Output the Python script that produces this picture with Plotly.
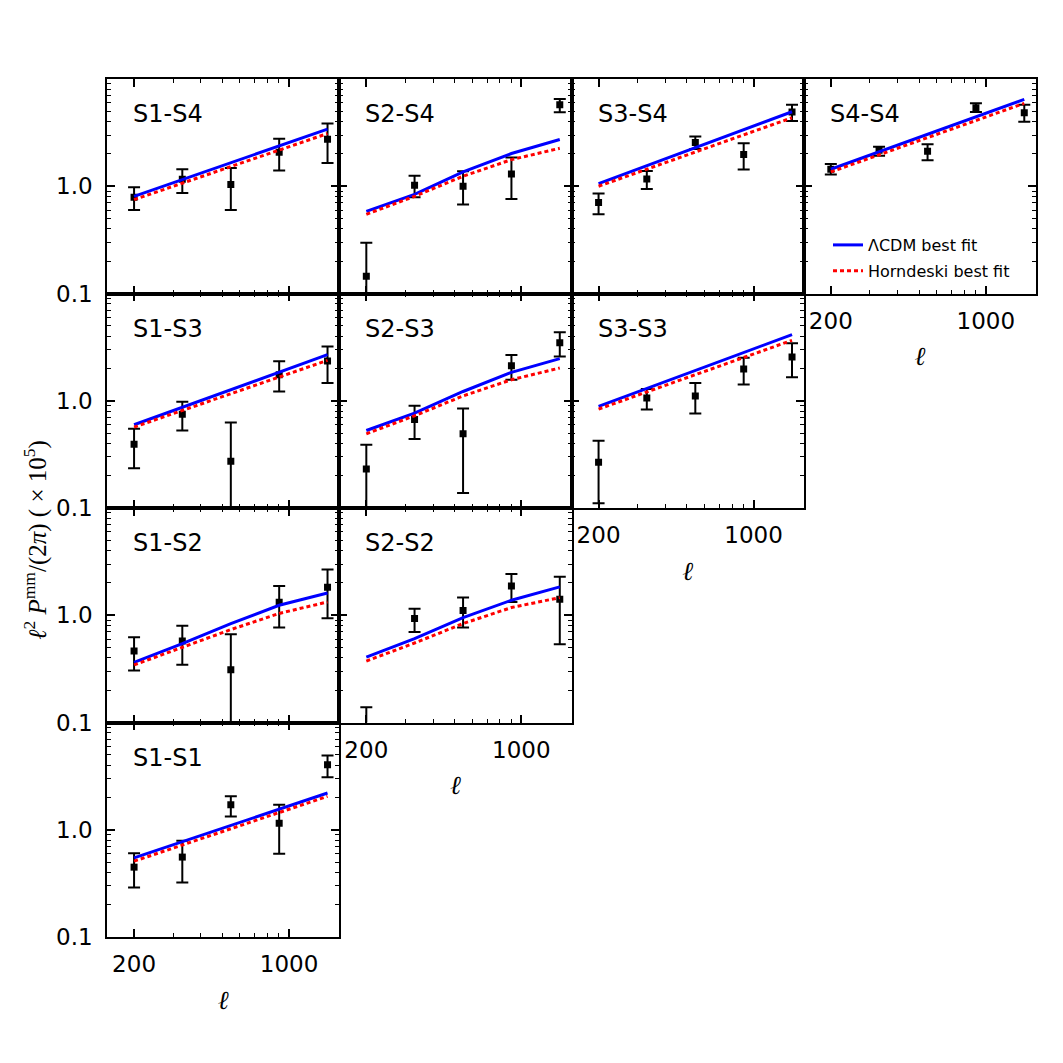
import plotly.graph_objects as go
from plotly.subplots import make_subplots

# multipole centres of the band powers
ell = [200, 330, 546, 902, 1490]

# ---- measured band powers (value, lower end, upper end of error bar) and best-fit models ----
s1s4_val = [0.79, 1.16, 1.04, 2.07, 2.75]
s1s4_lo = [0.60, 0.865, 0.60, 1.40, 1.65]
s1s4_hi = [0.98, 1.44, 1.48, 2.77, 3.85]
s1s4_lcdm = [0.805, 1.156, 1.656, 2.38, 3.41]
s1s4_horn = [0.75, 1.07, 1.53, 2.18, 3.10]

s2s4_val = [0.145, 1.02, 1.00, 1.30, 5.75]
s2s4_lo = [0.05, 0.79, 0.675, 0.76, 4.89]
s2s4_hi = [0.298, 1.25, 1.38, 1.85, 6.5]
s2s4_lcdm = [0.583, 0.84, 1.36, 2.02, 2.73]
s2s4_horn = [0.547, 0.805, 1.24, 1.77, 2.26]

s3s4_val = [0.705, 1.17, 2.56, 1.98, 4.92]
s3s4_lo = [0.547, 0.945, 2.23, 1.43, 4.05]
s3s4_hi = [0.855, 1.39, 2.91, 2.52, 5.75]
s3s4_lcdm = [1.06, 1.557, 2.29, 3.37, 4.95]
s3s4_horn = [1.0, 1.445, 2.09, 3.02, 4.35]

s4s4_val = [1.44, 2.17, 2.12, 5.39, 4.84]
s4s4_lo = [1.29, 1.92, 1.75, 4.92, 3.99]
s4s4_hi = [1.61, 2.33, 2.47, 5.93, 5.75]
s4s4_lcdm = [1.44, 2.10, 3.05, 4.44, 6.46]
s4s4_horn = [1.36, 1.97, 2.84, 4.10, 5.93]

s1s3_val = [0.394, 0.75, 0.273, 1.75, 2.35]
s1s3_lo = [0.235, 0.528, 0.05, 1.22, 1.46]
s1s3_hi = [0.547, 0.98, 0.627, 2.33, 3.2]
s1s3_lcdm = [0.597, 0.870, 1.27, 1.85, 2.69]
s1s3_horn = [0.568, 0.812, 1.163, 1.66, 2.38]

s2s3_val = [0.231, 0.668, 0.492, 2.12, 3.48]
s2s3_lo = [0.05, 0.441, 0.138, 1.57, 2.59]
s2s3_hi = [0.388, 0.897, 0.847, 2.67, 4.35]
s2s3_lcdm = [0.528, 0.767, 1.22, 1.84, 2.47]
s2s3_horn = [0.492, 0.724, 1.11, 1.57, 2.02]

s3s3_val = [0.267, 1.06, 1.11, 1.98, 2.56]
s3s3_lo = [0.111, 0.83, 0.76, 1.42, 1.66]
s3s3_hi = [0.423, 1.29, 1.46, 2.52, 3.43]
s3s3_lcdm = [0.885, 1.30, 1.91, 2.82, 4.14]
s3s3_horn = [0.836, 1.21, 1.75, 2.53, 3.66]

s1s2_val = [0.465, 0.575, 0.31, 1.32, 1.82]
s1s2_lo = [0.306, 0.346, 0.05, 0.767, 0.938]
s1s2_hi = [0.622, 0.80, 0.664, 1.87, 2.67]
s1s2_lcdm = [0.364, 0.543, 0.836, 1.24, 1.61]
s1s2_horn = [0.344, 0.506, 0.735, 1.04, 1.33]

s2s2_val = [0.06, 0.931, 1.11, 1.87, 1.41]
s2s2_lo = [0.02, 0.698, 0.767, 1.33, 0.536]
s2s2_hi = [0.139, 1.15, 1.46, 2.43, 2.28]
s2s2_lcdm = [0.407, 0.605, 0.95, 1.38, 1.84]
s2s2_horn = [0.374, 0.551, 0.836, 1.18, 1.46]

s1s1_val = [0.448, 0.556, 1.71, 1.15, 4.03]
s1s1_lo = [0.289, 0.322, 1.33, 0.597, 3.08]
s1s1_hi = [0.605, 0.789, 2.05, 1.71, 4.92]
s1s1_lcdm = [0.547, 0.774, 1.098, 1.556, 2.20]
s1s1_horn = [0.509, 0.721, 1.02, 1.445, 2.05]

# tick definitions
x_major = [200, 1000]
x_major_text = ["200", "1000"]
x_minor = [300, 400, 500, 600, 700, 800, 900]
y_major = [0.1, 1.0]
y_major_text = ["0.1", "1.0"]
y_minor = [0.2, 0.3, 0.4, 0.5, 0.6, 0.7, 0.8, 0.9, 2, 3, 4, 5, 6, 7, 8, 9]

legend_names = ["\u039bCDM best fit", "Horndeski best fit"]

# (label, row, col, data...)
panels = [
    ("S1-S4", 1, 1, s1s4_val, s1s4_lo, s1s4_hi, s1s4_lcdm, s1s4_horn),
    ("S2-S4", 1, 2, s2s4_val, s2s4_lo, s2s4_hi, s2s4_lcdm, s2s4_horn),
    ("S3-S4", 1, 3, s3s4_val, s3s4_lo, s3s4_hi, s3s4_lcdm, s3s4_horn),
    ("S4-S4", 1, 4, s4s4_val, s4s4_lo, s4s4_hi, s4s4_lcdm, s4s4_horn),
    ("S1-S3", 2, 1, s1s3_val, s1s3_lo, s1s3_hi, s1s3_lcdm, s1s3_horn),
    ("S2-S3", 2, 2, s2s3_val, s2s3_lo, s2s3_hi, s2s3_lcdm, s2s3_horn),
    ("S3-S3", 2, 3, s3s3_val, s3s3_lo, s3s3_hi, s3s3_lcdm, s3s3_horn),
    ("S1-S2", 3, 1, s1s2_val, s1s2_lo, s1s2_hi, s1s2_lcdm, s1s2_horn),
    ("S2-S2", 3, 2, s2s2_val, s2s2_lo, s2s2_hi, s2s2_lcdm, s2s2_horn),
    ("S1-S1", 4, 1, s1s1_val, s1s1_lo, s1s1_hi, s1s1_lcdm, s1s1_horn),
]

specs = [
    [{}, {}, {}, {}],
    [{}, {}, {}, None],
    [{}, {}, None, None],
    [{}, None, None, None],
]
fig = make_subplots(rows=4, cols=4, specs=specs,
                    horizontal_spacing=0, vertical_spacing=0)

SANS = "DejaVu Sans"
SERIF = "Liberation Serif"

first = True
for label, r, c, val, lo, hi, lcdm, horn in panels:
    up = [h - v for h, v in zip(hi, val)]
    dn = [v - l for v, l in zip(val, lo)]
    fig.add_trace(go.Scatter(
        x=ell, y=val, mode="markers",
        marker=dict(symbol="square", size=7, color="black"),
        error_y=dict(type="data", symmetric=False, array=up, arrayminus=dn,
                     color="black", thickness=2, width=6),
        showlegend=False, hoverinfo="skip"), row=r, col=c)
    fig.add_trace(go.Scatter(
        x=ell, y=lcdm, mode="lines", name=legend_names[0],
        line=dict(color="#0000ff", width=3),
        showlegend=first, legendgroup="a"), row=r, col=c)
    fig.add_trace(go.Scatter(
        x=ell, y=horn, mode="lines", name=legend_names[1],
        line=dict(color="#ff0000", width=3, dash="4px,3px"),
        showlegend=first, legendgroup="b"), row=r, col=c)
    first = False

    bottom_of_column = (r + c == 5)
    xaxis_kw = dict(
        type="log", range=[2.179, 3.226],
        tickmode="array", tickvals=x_major, ticktext=x_major_text,
        showticklabels=bottom_of_column,
        ticks="inside", ticklen=8, tickwidth=1.5, tickcolor="black",
        minor=dict(tickmode="array", tickvals=x_minor, ticks="inside",
                   ticklen=4, tickwidth=1.2, tickcolor="black"),
        showline=True, linecolor="black", linewidth=1.6, mirror="allticks",
        showgrid=False, zeroline=False,
        tickfont=dict(family=SANS, size=23, color="black"),
        ticklabelstandoff=6,
    )
    if bottom_of_column:
        xaxis_kw["title"] = dict(text="<i>\u2113</i>",
                                 font=dict(family=SERIF, size=26, color="black"),
                                 standoff=14)
    fig.update_xaxes(**xaxis_kw, row=r, col=c)
    fig.update_yaxes(
        type="log", range=[-1, 1],
        tickmode="array", tickvals=y_major, ticktext=y_major_text,
        showticklabels=(c == 1),
        ticks="inside", ticklen=8, tickwidth=1.5, tickcolor="black",
        minor=dict(tickmode="array", tickvals=y_minor, ticks="inside",
                   ticklen=4, tickwidth=1.2, tickcolor="black"),
        showline=True, linecolor="black", linewidth=1.6, mirror="allticks",
        showgrid=False, zeroline=False,
        tickfont=dict(family=SANS, size=23, color="black"),
        ticklabelstandoff=8,
        row=r, col=c)

    # panel label
    sub = fig.get_subplot(r, c)
    xd = sub.xaxis.plotly_name.replace("axis", "")
    yd = sub.yaxis.plotly_name.replace("axis", "")
    fig.add_annotation(text=label, xref=f"{xd} domain", yref=f"{yd} domain",
                       x=24 / 232, y=1 - 35 / 214.5, xanchor="left", yanchor="middle",
                       showarrow=False, font=dict(family=SANS, size=24, color="black"))

# global y label
fig.add_annotation(
    text="<i>\u2113</i><sup>2</sup> <i>P</i><sup>mm</sup>/(2<i>\u03c0</i>) ( \u00d7 10<sup>5</sup>)",
    xref="paper", yref="paper", x=-72 / 929, y=(937 - 540) / 858,
    xanchor="center", yanchor="middle", textangle=-90, showarrow=False,
    font=dict(family=SERIF, size=25, color="black"))

fig.update_layout(
    width=1063, height=1063, autosize=False,
    margin=dict(l=107, r=27, t=79, b=126),
    paper_bgcolor="white", plot_bgcolor="white",
    showlegend=True,
    legend=dict(x=(828 - 107) / 929, y=(937 - 228) / 858, xanchor="left", yanchor="top",
                bgcolor="rgba(0,0,0,0)", borderwidth=0,
                font=dict(family=SANS, size=16, color="black"),
                itemwidth=30, tracegroupgap=2),
)

fig.write_html("out.html")
